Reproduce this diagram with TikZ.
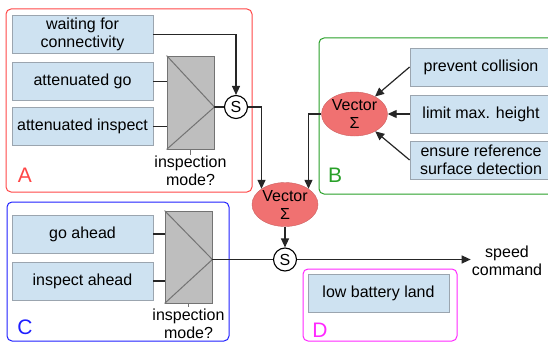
\documentclass[tikz,border=0pt]{standalone}
\usepackage{fontspec}
\setmainfont{Liberation Sans}
\usetikzlibrary{arrows.meta,shapes.geometric}
\definecolor{behfill}{RGB}{206,226,241}
\definecolor{behdraw}{RGB}{155,165,175}
\definecolor{sumfill}{RGB}{240,113,113}
\definecolor{muxfill}{RGB}{190,190,190}
\definecolor{muxdraw}{RGB}{115,115,115}
\definecolor{grpA}{RGB}{255,70,70}
\definecolor{grpB}{RGB}{40,160,40}
\definecolor{grpC}{RGB}{30,30,255}
\definecolor{grpD}{RGB}{255,40,255}
\tikzset{
  behbox/.style={rectangle, draw=behdraw, fill=behfill, line width=0.8pt,
                 minimum width=141pt, minimum height=38pt, inner sep=1pt, align=center},
  muxbox/.style={rectangle, draw=muxdraw, fill=muxfill, line width=0.8pt,
                 minimum width=47pt, minimum height=93pt, inner sep=0pt},
  sumnode/.style={ellipse, fill=sumfill, draw=sumfill!85!black, line width=0.4pt,
                  minimum width=66pt, minimum height=44pt, inner sep=0pt},
  sumtext/.style={align=center, inner sep=0pt},
  swnode/.style={circle, draw=black, fill=white, line width=1.1pt,
                 minimum size=23pt, inner sep=0pt, font=\fontsize{16}{16}\selectfont},
  grpframe/.style={rounded corners=5pt, line width=1pt},
  grplabel/.style={font=\fontsize{21}{21}\selectfont, inner sep=0pt},
  modetext/.style={align=center, inner sep=1pt},
  wire/.style={line width=1.2pt, black!85},
  flow/.style={wire, -{Triangle[length=9pt,width=8pt]}},
  tick/.style={line width=0.8pt, muxdraw},
}

\begin{document}
\begin{tikzpicture}[x=1pt, y=-1pt, font=\fontsize{16}{18}\selectfont]
    \clip (0,0) rectangle (548,342);
    % group frames
    \draw[grpframe, grpA] (6,9)    rectangle (252,192);
    \draw[grpframe, grpB] (319,38) rectangle (562,194);
    \draw[grpframe, grpC] (7,202)  rectangle (229,341);
    \draw[grpframe, grpD] (303,269) rectangle (457,341);
    \node[grplabel, text=grpA] (labA) at (25,175) {A};
    \node[grplabel, text=grpB] (labB) at (335,175) {B};
    \node[grplabel, text=grpC] (labC) at (25,327) {C};
    \node[grplabel, text=grpD] (labD) at (320,330) {D};

    % A
    \node[behbox] (wait)    at (82.5,34.5) {waiting for\\connectivity};
    \node[behbox] (attgo)   at (82.5,81.5) {attenuated go};
    \node[behbox] (attinsp) at (82.5,126.5) {attenuated inspect};
    \node[muxbox] (muxA)    at (190.5,102.5) {};
    \node[swnode] (sA) at (236,107) {S};
    \draw[tick, line width=1pt] (muxA.north west) -- (muxA.east |- sA) -- (muxA.south west);
    \node[modetext] (modeA) at (190.5,171) {inspection\\mode?};
    \draw[wire] (attgo.east) -- (attgo.east -| muxA.west);
    \draw[wire] (attinsp.east) -- (attinsp.east -| muxA.west);
    \draw[tick] (muxA.south) -- (modeA.north);
    \draw[wire] (muxA.east |- sA) -- (sA.west);
    \draw[flow] (wait.east) -| (sA.north);

    % B
    \node[behbox, minimum width=142pt] (prevent) at (481,67)    {prevent collision};
    \node[behbox, minimum width=142pt] (limit)   at (481,114)   {limit max. height};
    \node[behbox, minimum width=142pt] (ensure)  at (481,160)   {ensure reference\\surface detection};
    \node[sumnode, label={[sumtext]center:Vector\\Σ}] (vecB) at (354.5,114) {};
    \draw[flow] (prevent.west) -- (vecB);
    \draw[flow] (limit.west) -- (vecB);
    \draw[flow] (ensure.west) -- (vecB);

    % summing of A and B
    \node[sumnode, label={[sumtext]center:Vector\\Σ}] (vecC) at (285,204.5) {};
    \draw[flow] (sA.east) -| (vecC.north west);
    \draw[flow] (vecB.west) -| (vecC.north east);

    % C
    \node[behbox] (goah)   at (82.5,234) {go ahead};
    \node[behbox] (inspah) at (82.5,281) {inspect ahead};
    \node[muxbox, minimum height=92pt] (muxC) at (188.5,257) {};
    \node[swnode] (sC) at (285,259.5) {S};
    \draw[tick, line width=1pt] (muxC.north west) -- (muxC.east |- sC) -- (muxC.south west);
    \node[modetext] (modeC) at (188.5,323.5) {inspection\\mode?};
    \draw[wire] (goah.east) -- (goah.east -| muxC.west);
    \draw[wire] (inspah.east) -- (inspah.east -| muxC.west);
    \draw[tick] (muxC.south) -- (modeC.north);

    % output
    \node[modetext] (speed) at (507,261) {speed\\command};
    \draw[flow] (vecC.south) -- (sC.north);
    \draw[wire] (muxC.east |- sC) -- (sC.west);
    \draw[flow] (sC.east) -- (sC.east -| speed.west);

    % D
    \node[behbox] (lowbat) at (378.5,293.5) {low battery land};
\end{tikzpicture}
\end{document}
